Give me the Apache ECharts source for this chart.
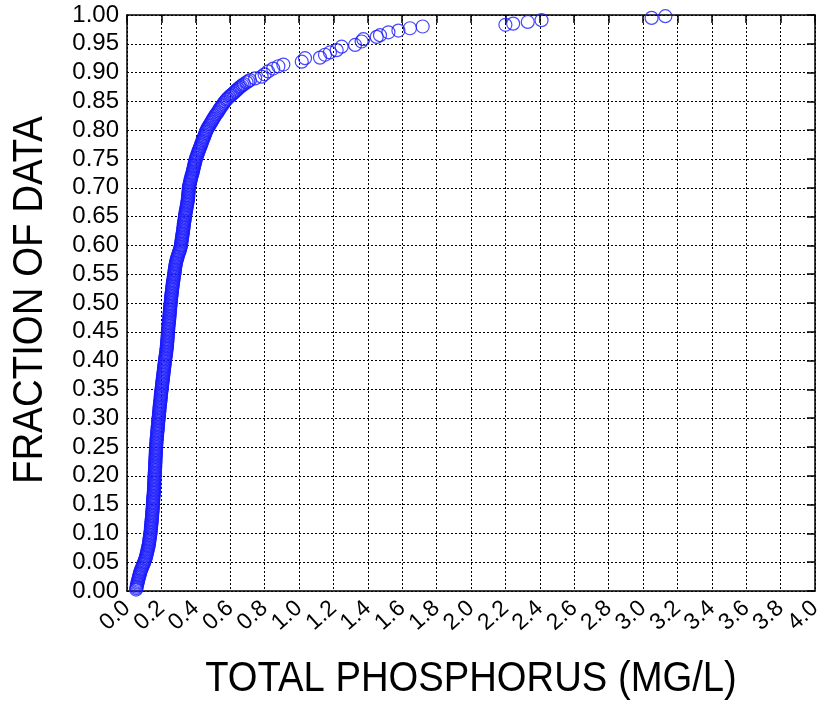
<!DOCTYPE html>
<html>
<head>
<meta charset="utf-8">
<script src="https://cdn.jsdelivr.net/npm/echarts@6/dist/echarts.min.js"></script>
<style>html,body{margin:0;padding:0;background:#fff;}#c{width:828px;height:703px;}</style>
</head>
<body>
<div id="c"></div>
<script>
// Total phosphorus (mg/L) values, sorted
const phosphorus = [
0.053,0.055,0.056,0.058,0.060,0.062,0.064,0.066,0.068,0.070,0.073,0.075,0.077,0.080,0.083,0.086,0.090,0.093,0.097,0.100,
0.103,0.106,0.109,0.111,0.113,0.115,0.117,0.119,0.121,0.123,0.125,0.126,0.128,0.129,0.130,0.131,0.133,0.134,0.135,0.136,
0.137,0.138,0.139,0.139,0.140,0.141,0.142,0.143,0.143,0.144,0.145,0.146,0.146,0.147,0.148,0.148,0.149,0.150,0.150,0.151,
0.151,0.152,0.152,0.153,0.153,0.154,0.155,0.156,0.156,0.157,0.157,0.158,0.158,0.158,0.159,0.159,0.159,0.160,0.160,0.161,
0.161,0.162,0.162,0.163,0.163,0.164,0.164,0.164,0.165,0.165,0.165,0.166,0.166,0.167,0.167,0.168,0.168,0.168,0.169,0.169,
0.170,0.170,0.171,0.172,0.172,0.173,0.174,0.175,0.175,0.176,0.177,0.178,0.178,0.179,0.180,0.181,0.181,0.182,0.183,0.184,
0.185,0.186,0.186,0.187,0.188,0.189,0.189,0.190,0.191,0.192,0.193,0.194,0.195,0.196,0.196,0.197,0.198,0.199,0.200,0.201,
0.202,0.203,0.204,0.205,0.206,0.207,0.208,0.209,0.210,0.211,0.212,0.213,0.214,0.215,0.216,0.217,0.218,0.219,0.220,0.221,
0.222,0.223,0.225,0.226,0.227,0.228,0.229,0.230,0.231,0.232,0.233,0.233,0.234,0.235,0.235,0.236,0.237,0.237,0.238,0.238,
0.239,0.240,0.240,0.241,0.242,0.243,0.244,0.245,0.245,0.246,0.247,0.248,0.248,0.249,0.250,0.251,0.251,0.252,0.253,0.254,
0.255,0.256,0.256,0.257,0.258,0.259,0.260,0.261,0.262,0.263,0.264,0.265,0.266,0.267,0.268,0.270,0.271,0.272,0.273,0.275,
0.276,0.277,0.278,0.279,0.280,0.282,0.283,0.285,0.287,0.289,0.291,0.294,0.296,0.299,0.302,0.305,0.308,0.310,0.312,0.314,
0.315,0.316,0.317,0.318,0.320,0.321,0.322,0.323,0.325,0.326,0.327,0.328,0.329,0.330,0.331,0.332,0.334,0.335,0.336,0.337,
0.338,0.340,0.341,0.343,0.344,0.346,0.347,0.349,0.350,0.352,0.353,0.354,0.355,0.356,0.356,0.357,0.358,0.359,0.359,0.360,
0.361,0.363,0.365,0.367,0.369,0.371,0.373,0.375,0.378,0.380,0.382,0.384,0.386,0.388,0.390,0.392,0.394,0.396,0.398,0.400,
0.403,0.406,0.409,0.412,0.415,0.418,0.421,0.424,0.428,0.431,0.434,0.437,0.440,0.443,0.447,0.450,0.453,0.456,0.460,0.463,
0.467,0.472,0.477,0.482,0.487,0.492,0.497,0.502,0.507,0.512,0.518,0.524,0.530,0.535,0.540,0.546,0.552,0.558,0.564,0.570,
0.578,0.585,0.594,0.603,0.610,0.618,0.625,0.632,0.639,0.646,0.654,0.662,0.671,0.680,0.695,0.705,0.715,0.745,0.783,0.800,
0.820,0.850,0.880,0.909,1.016,1.035,1.122,1.151,1.180,1.219,1.248,1.326,1.364,1.374,1.452,1.471,1.520,1.578,1.645,1.719,
2.200,2.245,2.330,2.410,3.050,3.130
];
// Cumulative fraction of data for each value above
const fraction = [
0.0025,0.0050,0.0075,0.0100,0.0125,0.0150,0.0175,0.0200,0.0225,0.0250,0.0275,0.0300,0.0325,0.0350,0.0375,0.0400,0.0425,0.0450,0.0475,0.0500,
0.0525,0.0550,0.0575,0.0600,0.0625,0.0650,0.0675,0.0700,0.0725,0.0750,0.0775,0.0800,0.0825,0.0850,0.0875,0.0900,0.0925,0.0950,0.0975,0.1000,
0.1025,0.1050,0.1075,0.1100,0.1125,0.1150,0.1175,0.1200,0.1225,0.1250,0.1275,0.1300,0.1325,0.1350,0.1375,0.1400,0.1425,0.1450,0.1475,0.1500,
0.1525,0.1550,0.1575,0.1600,0.1625,0.1650,0.1675,0.1700,0.1725,0.1750,0.1775,0.1800,0.1825,0.1850,0.1875,0.1900,0.1925,0.1950,0.1975,0.2000,
0.2025,0.2050,0.2075,0.2100,0.2125,0.2150,0.2175,0.2200,0.2225,0.2250,0.2275,0.2300,0.2325,0.2350,0.2375,0.2400,0.2425,0.2450,0.2475,0.2500,
0.2525,0.2550,0.2575,0.2600,0.2625,0.2650,0.2675,0.2700,0.2725,0.2750,0.2775,0.2800,0.2825,0.2850,0.2875,0.2900,0.2925,0.2950,0.2975,0.3000,
0.3025,0.3050,0.3075,0.3100,0.3125,0.3150,0.3175,0.3200,0.3225,0.3250,0.3275,0.3300,0.3325,0.3350,0.3375,0.3400,0.3425,0.3450,0.3475,0.3500,
0.3525,0.3550,0.3575,0.3600,0.3625,0.3650,0.3675,0.3700,0.3725,0.3750,0.3775,0.3800,0.3825,0.3850,0.3875,0.3900,0.3925,0.3950,0.3975,0.4000,
0.4025,0.4050,0.4075,0.4100,0.4125,0.4150,0.4175,0.4200,0.4225,0.4250,0.4275,0.4300,0.4325,0.4350,0.4375,0.4400,0.4425,0.4450,0.4475,0.4500,
0.4525,0.4550,0.4575,0.4600,0.4625,0.4650,0.4675,0.4700,0.4725,0.4750,0.4775,0.4800,0.4825,0.4850,0.4875,0.4900,0.4925,0.4950,0.4975,0.5000,
0.5025,0.5050,0.5075,0.5100,0.5125,0.5150,0.5175,0.5200,0.5225,0.5250,0.5275,0.5300,0.5325,0.5350,0.5375,0.5400,0.5425,0.5450,0.5475,0.5500,
0.5525,0.5550,0.5575,0.5600,0.5625,0.5650,0.5675,0.5700,0.5725,0.5750,0.5775,0.5800,0.5825,0.5850,0.5875,0.5900,0.5925,0.5950,0.5975,0.6000,
0.6025,0.6050,0.6075,0.6100,0.6125,0.6150,0.6175,0.6200,0.6225,0.6250,0.6275,0.6300,0.6325,0.6350,0.6375,0.6400,0.6425,0.6450,0.6475,0.6500,
0.6525,0.6550,0.6575,0.6600,0.6625,0.6650,0.6675,0.6700,0.6725,0.6750,0.6775,0.6800,0.6825,0.6850,0.6875,0.6900,0.6925,0.6950,0.6975,0.7000,
0.7025,0.7050,0.7075,0.7100,0.7125,0.7150,0.7175,0.7200,0.7225,0.7250,0.7275,0.7300,0.7325,0.7350,0.7375,0.7400,0.7425,0.7450,0.7475,0.7500,
0.7525,0.7550,0.7575,0.7600,0.7625,0.7650,0.7675,0.7700,0.7725,0.7750,0.7775,0.7800,0.7825,0.7850,0.7875,0.7900,0.7925,0.7950,0.7975,0.8000,
0.8025,0.8050,0.8075,0.8100,0.8125,0.8150,0.8175,0.8200,0.8225,0.8250,0.8275,0.8300,0.8325,0.8350,0.8375,0.8400,0.8425,0.8450,0.8475,0.8500,
0.853,0.855,0.858,0.860,0.862,0.864,0.866,0.868,0.870,0.872,0.874,0.876,0.878,0.880,0.883,0.885,0.887,0.890,0.893,0.897,
0.902,0.907,0.911,0.914,0.919,0.925,0.926,0.931,0.935,0.939,0.945,0.948,0.954,0.958,0.962,0.965,0.970,0.973,0.977,0.980,
0.983,0.985,0.988,0.991,0.995,0.998
];
const xTickLabels = ['0.0','0.2','0.4','0.6','0.8','1.0','1.2','1.4','1.6','1.8','2.0','2.2','2.4','2.6','2.8','3.0','3.2','3.4','3.6','3.8','4.0'];
const yTickLabels = ['0.00','0.05','0.10','0.15','0.20','0.25','0.30','0.35','0.40','0.45','0.50','0.55','0.60','0.65','0.70','0.75','0.80','0.85','0.90','0.95','1.00'];
const xTitle = 'TOTAL PHOSPHORUS (MG/L)';
const yTitle = 'FRACTION OF DATA';

const points = phosphorus.map((v, i) => [v, fraction[i]]);
const FONT = '"Liberation Sans", Arial, sans-serif';
const gridDots = {show: true, lineStyle: {color: '#000', width: 1, type: [2, 2]}};
const solidAxis = {show: true, onZero: false, lineStyle: {color: '#000', width: 1.5}};
const innerTick = {show: true, inside: true, length: 8, lineStyle: {color: '#000', width: 1.5}};

const chart = echarts.init(document.getElementById('c'), null, {renderer: 'canvas'});
chart.setOption({
  animation: false,
  backgroundColor: '#fff',
  grid: {left: 127, right: 13, top: 15, bottom: 112, containLabel: false},
  xAxis: [{
    type: 'value', position: 'bottom', min: 0, max: 4, interval: 0.2,
    axisLine: solidAxis,
    axisTick: {show: false},
    splitLine: gridDots,
    axisLabel: {
      rotate: 42, margin: 14, fontSize: 23, color: '#000', fontFamily: FONT,
      formatter: (v) => xTickLabels[Math.round(v / 0.2)]
    }
  }, {
    type: 'value', position: 'top', min: 0, max: 4, interval: 0.2,
    axisLine: solidAxis, axisTick: innerTick,
    splitLine: {show: false}, axisLabel: {show: false}
  }],
  yAxis: [{
    type: 'value', position: 'left', min: 0, max: 1, interval: 0.05,
    axisLine: solidAxis,
    axisTick: {show: false},
    splitLine: gridDots,
    axisLabel: {
      margin: 8, fontSize: 24, color: '#000', fontFamily: FONT,
      formatter: (v) => yTickLabels[Math.round(v / 0.05)]
    }
  }, {
    type: 'value', position: 'right', min: 0, max: 1, interval: 0.05,
    axisLine: solidAxis, axisTick: innerTick,
    splitLine: {show: false}, axisLabel: {show: false}
  }],
  graphic: [{
    type: 'text', x: 471, y: 679, scaleX: 0.91,
    style: {text: xTitle, font: '42px ' + FONT, fill: '#000', textAlign: 'center', textVerticalAlign: 'middle'}
  }, {
    type: 'text', x: 30, y: 300, rotation: Math.PI / 2, scaleX: 0.915,
    style: {text: yTitle, font: '42px ' + FONT, fill: '#000', textAlign: 'center', textVerticalAlign: 'middle'}
  }],
  series: [{
    type: 'scatter', xAxisIndex: 0, yAxisIndex: 0,
    data: points,
    symbol: 'circle', symbolSize: 13,
    itemStyle: {color: 'rgba(0,0,0,0)', borderColor: '#1a1aff', borderWidth: 1.2},
    emphasis: {disabled: true}
  }]
});
</script>
</body>
</html>
